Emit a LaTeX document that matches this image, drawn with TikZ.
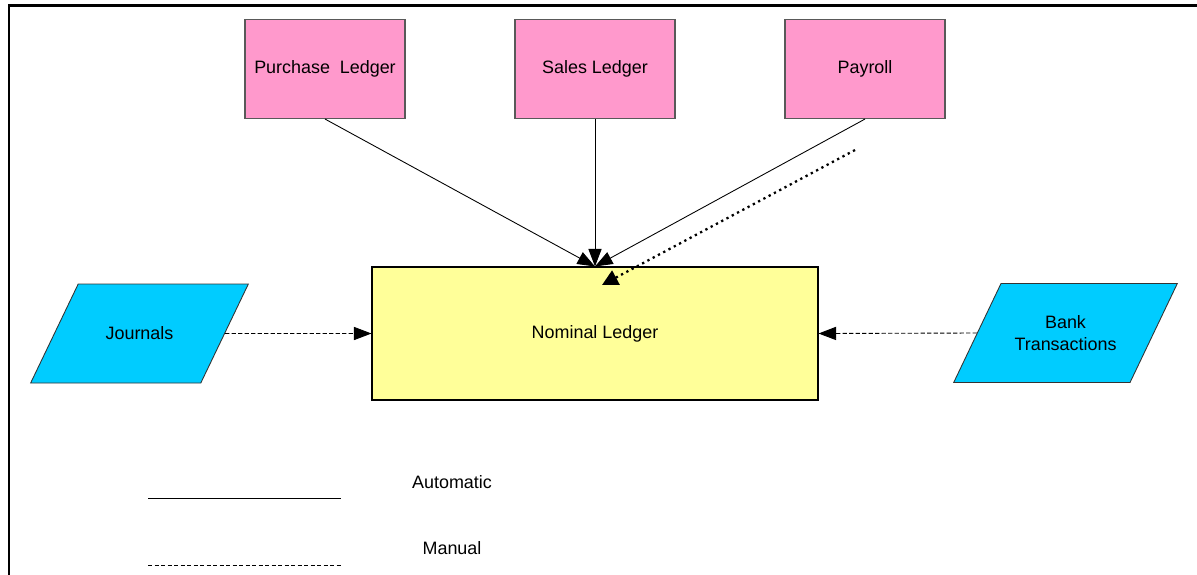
\documentclass[tikz,border=0pt]{standalone}
\usepackage{fontspec}
\setmainfont{Liberation Sans}
\usetikzlibrary{arrows.meta,shapes.geometric}

\definecolor{ledgerpink}{HTML}{FF99CC}
\definecolor{ledgeryellow}{HTML}{FFFF99}
\definecolor{inputcyan}{HTML}{00CCFF}

\tikzset{
  ledger/.style={draw=black!65, fill=ledgerpink, line width=0.6pt,
    minimum width=3.2cm, minimum height=1.98cm, inner sep=0pt},
  mainbook/.style={draw=black, fill=ledgeryellow, line width=0.6pt,
    minimum width=8.92cm, minimum height=2.66cm, inner sep=0pt},
  inputbox/.style={draw=black!80, fill=inputcyan, line width=0.5pt, trapezium,
    trapezium left angle=64, trapezium right angle=116, trapezium stretches=true,
    minimum height=1.98cm, align=center},
  auto/.style={-{Triangle[length=10pt,width=7.5pt]}, line width=0.5pt},
  manual/.style={-{Triangle[length=10pt,width=7.5pt]}, line width=0.5pt,
    dash pattern=on 2.4pt off 1.3pt},
  dotline/.style={-{Triangle[length=9pt,width=9pt]}, line width=1.3pt,
    dash pattern=on 1.3pt off 2.1pt}
}

\begin{document}
\begin{tikzpicture}[font=\fontsize{10.2}{12.5}\selectfont]
    \useasboundingbox (0,0) rectangle (23.94,-11.48);

    % Rahmen
    \draw[line width=1.2pt] (0.18,-11.6) -- (0.18,-0.11) -- (24.1,-0.11);

    % Nebenbuecher
    \node[ledger] (pl) at (6.5,-1.38) {Purchase\ \ Ledger};
    \node[ledger] (sl) at (11.9,-1.38) {Sales Ledger};
    \node[ledger] (pr) at (17.3,-1.38) {Payroll};

    % Hauptbuch
    \node[mainbook] (nl) at (11.9,-6.67) {Nominal Ledger};

    % Eingaben
    \node[inputbox, inner xsep=15.6pt, inner ysep=24pt] (jn) at (2.79,-6.67) {Journals};
    \node[inputbox, inner xsep=7.7pt, inner ysep=17.6pt] (bt) at (21.31,-6.66) {Bank\\Transactions};

    % Buchungen
    \draw[auto] (pl.south) -- (nl.north);
    \draw[auto] (sl.south) -- (nl.north);
    \draw[auto] (pr.south) -- (nl.north);
    \draw[manual] (jn.east) -- (nl.west);
    \draw[manual] (bt.west) -- (nl.east);

    \coordinate (dotstart) at (17.1,-3.0);
    \draw[dotline] (dotstart) -- (12.04,-5.7);

    % Legende
    \draw[line width=0.5pt] (2.96,-9.96) -- (6.82,-9.96);
    \node (lgauto) at (9.04,-9.64) {Automatic};
    \draw[line width=0.5pt, dash pattern=on 2.4pt off 1.3pt] (2.96,-11.3) -- (6.82,-11.3);
    \node (lgman) at (9.04,-10.96) {Manual};

  \end{tikzpicture}
\end{document}
